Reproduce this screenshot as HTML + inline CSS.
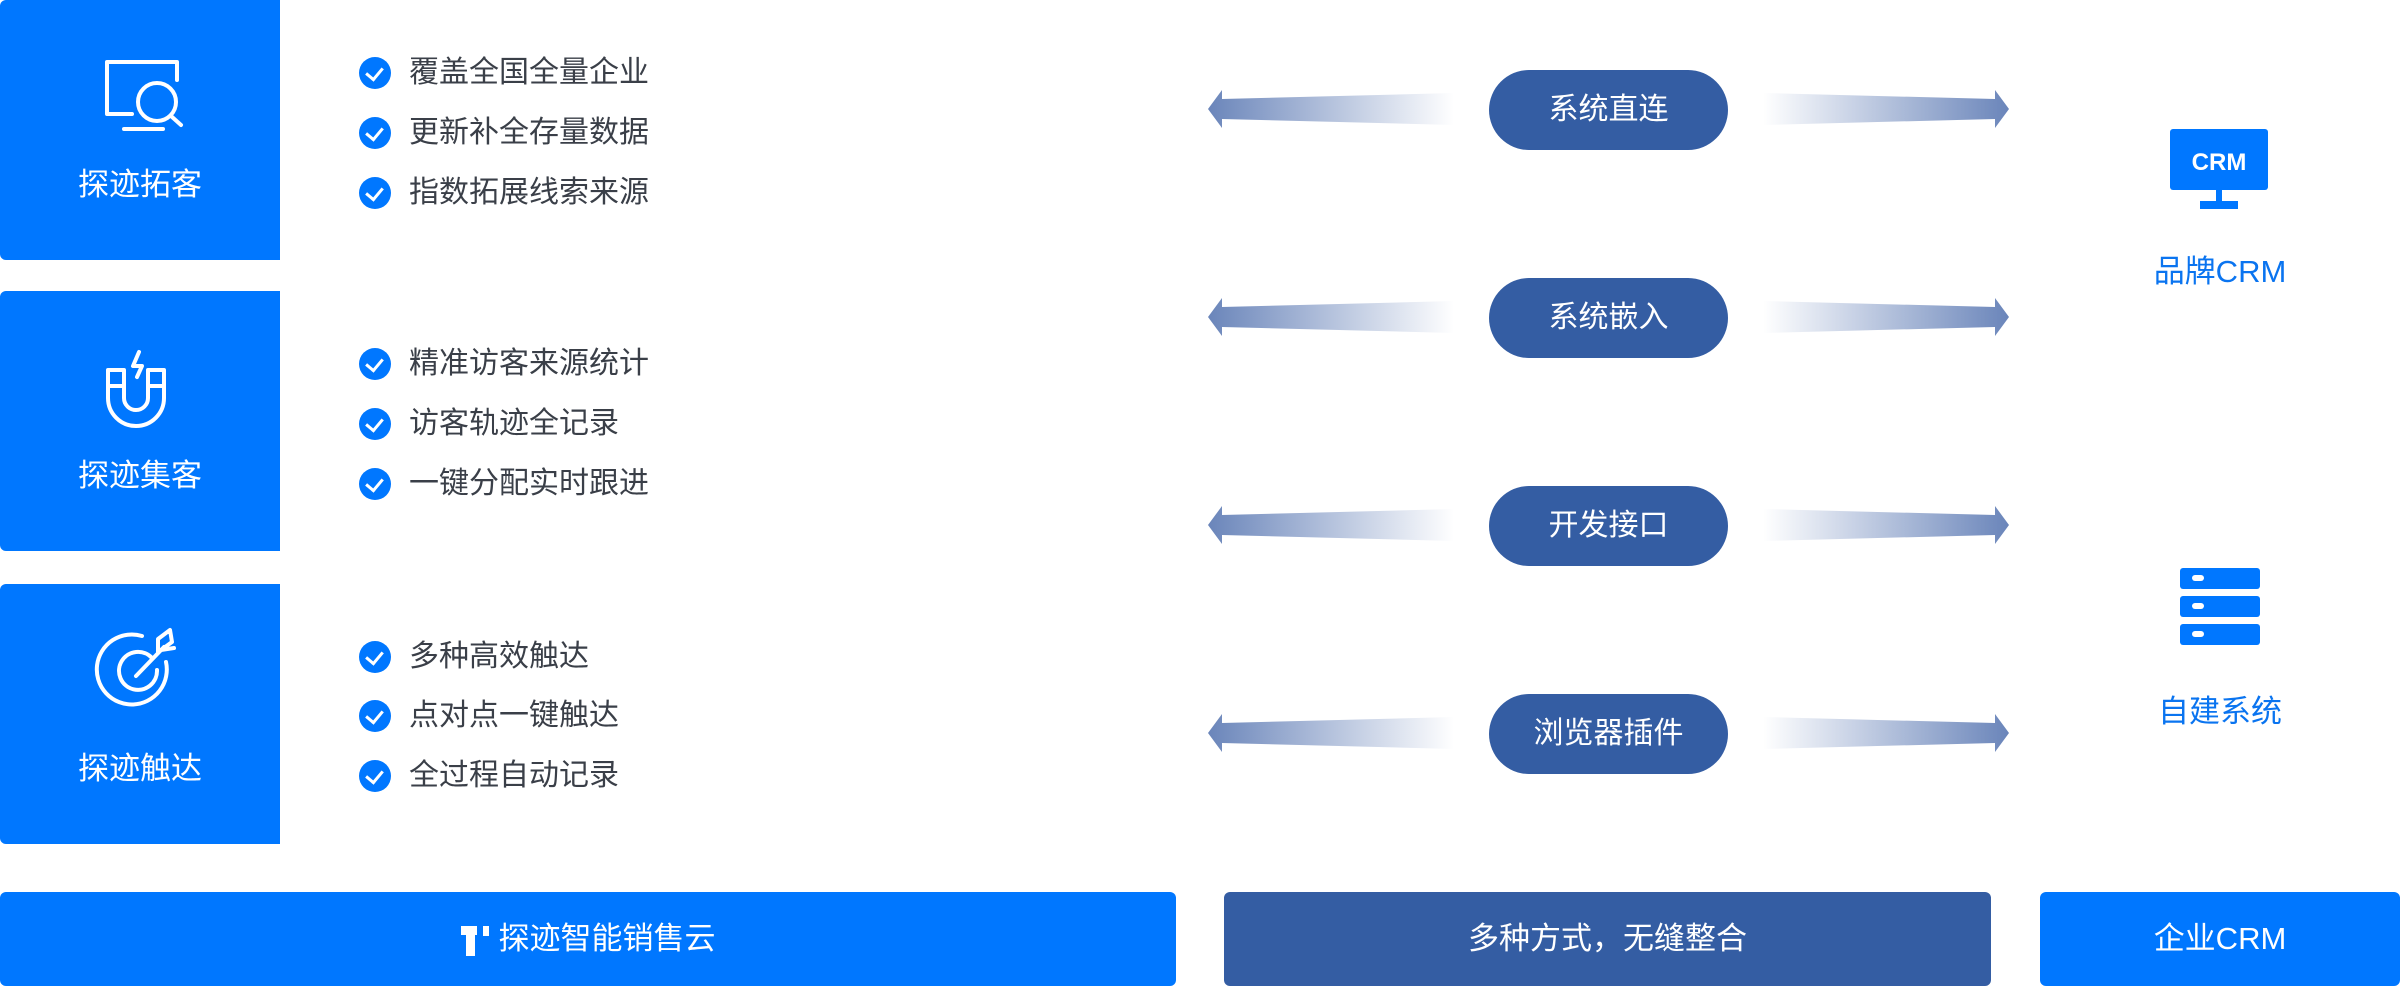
<!DOCTYPE html>
<html><head><meta charset="utf-8"><style>
*{margin:0;padding:0;box-sizing:border-box}
body{width:2400px;height:988px;background:#fff;position:relative;overflow:hidden;font-family:"Liberation Sans","Noto Sans CJK SC",sans-serif}
.box{position:absolute;left:0;width:280px;background:#0077ff;border-radius:6px 0 0 6px}
.bt{position:absolute;left:0;width:280px;text-align:center;color:#fff;font-size:31px;line-height:40px}
.it{position:absolute;left:409px;font-size:30px;color:#3a3f48;line-height:40px;white-space:nowrap}
.ck{position:absolute;left:359px;width:32px;height:32px;border-radius:50%;background:#0077ff}
.ck:after{content:"";position:absolute;left:10px;top:7px;width:8px;height:13px;border:solid #fff;border-width:0 3px 3px 0;transform:rotate(40deg)}
.pill{position:absolute;left:1489px;width:239px;height:80px;border-radius:40px;background:#345da3;color:#fff;font-size:30px;line-height:80px;text-align:center}
.bar{position:absolute;top:892px;height:94px;border-radius:6px;color:#fff;font-size:31px;line-height:94px;text-align:center}
.lbl{position:absolute;left:2120px;width:200px;text-align:center;color:#0a74f0;font-size:31px;line-height:40px}
</style></head><body>
<div class="box" style="top:0;height:260px"></div>
<div class="box" style="top:291px;height:260px"></div>
<div class="box" style="top:584px;height:260px"></div>
<div class="bt" style="top:165px">探迹拓客</div>
<div class="bt" style="top:456px">探迹集客</div>
<div class="bt" style="top:749px">探迹触达</div>
<svg style="position:absolute;left:0;top:0" width="280" height="860" fill="none" stroke="#fff" stroke-width="4" stroke-linecap="round" stroke-linejoin="round">
<path d="M132 114H107V62H177V80"/><path d="M124 129H163"/><circle cx="157" cy="102" r="19"/><path d="M171 116L181 125"/>
<path d="M108 370V398A28 28 0 0 0 164 398V370H148V398A12 12 0 0 1 124 398V370Z"/><path d="M108 386H124M148 386H164"/><path d="M139 352L133 366H142L137 377"/>
<path d="M166 662A35 35 0 1 1 142 636"/><path d="M152 658A19 19 0 1 0 157 670"/><path d="M136 676L164 647"/><path d="M158 652L158 639L170 630L172 642L161 650L174 648"/>
</svg>
<div class="ck" style="top:57px"></div><div class="it" style="top:53px">覆盖全国全量企业</div>
<div class="ck" style="top:117px"></div><div class="it" style="top:113px">更新补全存量数据</div>
<div class="ck" style="top:177px"></div><div class="it" style="top:173px">指数拓展线索来源</div>
<div class="ck" style="top:348px"></div><div class="it" style="top:344px">精准访客来源统计</div>
<div class="ck" style="top:408px"></div><div class="it" style="top:404px">访客轨迹全记录</div>
<div class="ck" style="top:468px"></div><div class="it" style="top:464px">一键分配实时跟进</div>
<div class="ck" style="top:641px"></div><div class="it" style="top:637px">多种高效触达</div>
<div class="ck" style="top:700px"></div><div class="it" style="top:696px">点对点一键触达</div>
<div class="ck" style="top:760px"></div><div class="it" style="top:756px">全过程自动记录</div>
<svg style="position:absolute;left:0;top:0" width="2400" height="988">
<defs>
<linearGradient id="gl" x1="0" x2="1"><stop offset="0" stop-color="#6a85ba"/><stop offset="1" stop-color="#6a85ba" stop-opacity="0"/></linearGradient>
<linearGradient id="gr" x1="0" x2="1"><stop offset="0" stop-color="#6a85ba" stop-opacity="0"/><stop offset="1" stop-color="#6a85ba"/></linearGradient>
<g id="ar">
<path d="M1208 0L1222 -19V-10L1454 -16V16L1222 10V19Z" fill="url(#gl)"/>
<path d="M2009 0L1995 -19V-10L1763 -16V16L1995 10V19Z" fill="url(#gr)"/>
</g>
</defs>
<use href="#ar" y="109"/><use href="#ar" y="317"/><use href="#ar" y="525"/><use href="#ar" y="733"/>
<rect x="2170" y="129" width="98" height="61" rx="3" fill="#0077ff"/>
<rect x="2216" y="190" width="6" height="12" fill="#0077ff"/>
<rect x="2200" y="201" width="38" height="8" fill="#0077ff"/>
<text x="2219" y="170" fill="#fff" font-size="24" font-weight="bold" text-anchor="middle" font-family="Liberation Sans">CRM</text>
<g fill="#0077ff"><rect x="2180" y="568" width="80" height="21" rx="3"/><rect x="2180" y="596" width="80" height="21" rx="3"/><rect x="2180" y="624" width="80" height="21" rx="3"/></g>
<g fill="#fff"><rect x="2192" y="575" width="12" height="6" rx="3"/><rect x="2192" y="603" width="12" height="6" rx="3"/><rect x="2192" y="631" width="12" height="6" rx="3"/></g>
</svg>
<div class="pill" style="top:70px">系统直连</div>
<div class="pill" style="top:278px">系统嵌入</div>
<div class="pill" style="top:486px">开发接口</div>
<div class="pill" style="top:694px">浏览器插件</div>
<div class="lbl" style="top:252px">品牌CRM</div>
<div class="lbl" style="top:692px">自建系统</div>
<div class="bar" style="left:0;width:1176px;background:#0077ff"><span style="display:inline-block;width:16px;height:30px;border-top:9px solid #fff;position:relative;vertical-align:middle;margin-right:22px"><span style="position:absolute;left:5px;top:-9px;width:9px;height:30px;background:#fff"></span><span style="position:absolute;left:22px;top:-9px;width:6px;height:10px;background:#fff"></span></span>探迹智能销售云</div>
<div class="bar" style="left:1224px;width:767px;background:#345da3">多种方式，无缝整合</div>
<div class="bar" style="left:2040px;width:360px;background:#0077ff">企业CRM</div>
</body></html>
